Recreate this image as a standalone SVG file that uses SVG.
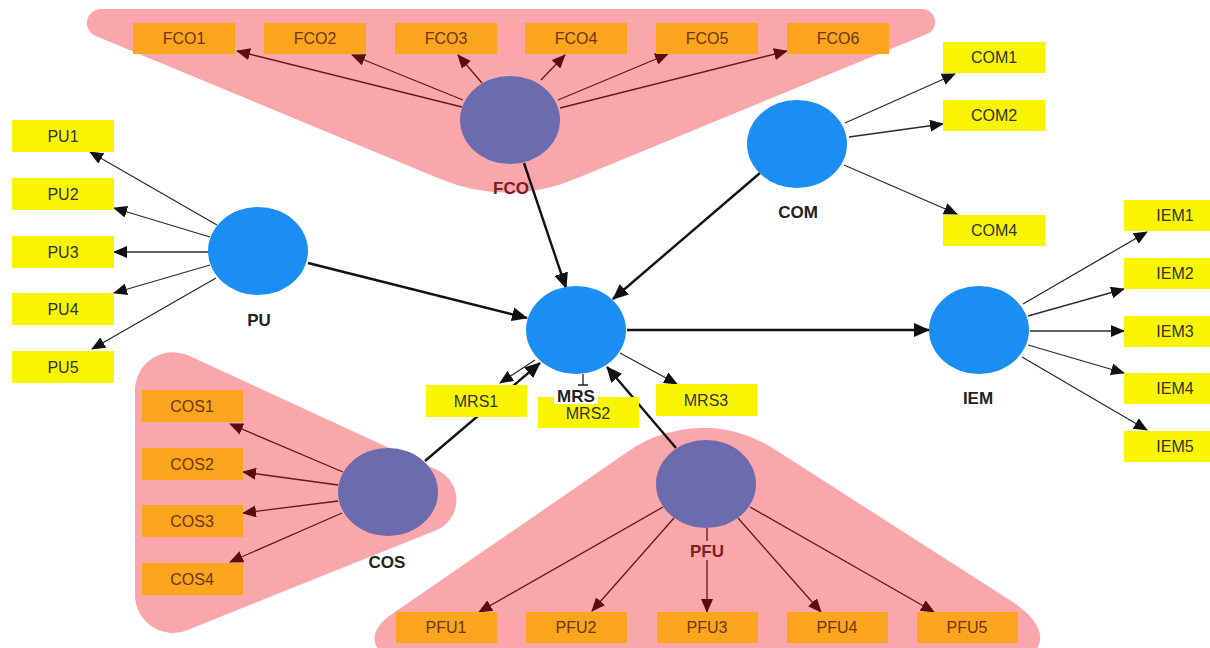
<svg xmlns="http://www.w3.org/2000/svg" width="1210" height="648" viewBox="0 0 1210 648">
<style>
.bg{fill:#ffffff}
.zone{fill:#F9A7AB}
.lat{fill:#1A8EF2}
.lat2{fill:#6B6BAE}
.ind{fill:#F9F500}
.ind2{fill:#FBA51C}
.t{font-family:"Liberation Sans",Arial,sans-serif;font-size:16px;text-anchor:middle;fill:#333333}
.t2{font-family:"Liberation Sans",Arial,sans-serif;font-size:16px;text-anchor:middle;fill:#6E3516}
.lb{font-family:"Liberation Sans",Arial,sans-serif;font-size:17px;font-weight:bold;text-anchor:middle;fill:#222222}
.lr{font-family:"Liberation Sans",Arial,sans-serif;font-size:17px;font-weight:bold;text-anchor:middle;fill:#7A1E1E}
.thin{stroke:#2b2b2b;stroke-width:1.3;fill:none;marker-end:url(#ah)}
.red{stroke:#6A1515;stroke-width:1.3;fill:none;marker-end:url(#ar)}
.thick{stroke:#111111;stroke-width:2.4;fill:none;marker-end:url(#ab)}
</style>
<defs>
<marker id="ah" markerUnits="userSpaceOnUse" markerWidth="14" markerHeight="12" refX="13" refY="6" orient="auto"><path d="M0,0 L14,6 L0,12 z" fill="#111"/></marker>
<marker id="ar" markerUnits="userSpaceOnUse" markerWidth="14" markerHeight="12" refX="13" refY="6" orient="auto"><path d="M0,0 L14,6 L0,12 z" fill="#5A0E0E"/></marker>
<marker id="ab" markerUnits="userSpaceOnUse" markerWidth="16" markerHeight="14" refX="15" refY="7" orient="auto"><path d="M0,0 L16,7 L0,14 z" fill="#111"/></marker>
</defs>
<rect class="bg" x="0" y="0" width="1210" height="648"/>
<g id="clusters">
<path class="zone" d="M100,9 L921,9 A13,13 0 0 1 927,34 L576.3,178.6 A174,174 0 0 1 440.3,179.1 L94.6,35.5 A14,14 0 0 1 100,9 Z"/>
<path class="zone" d="M135,390.4 A38,38 0 0 1 189,355.8 L437.2,469.9 A33,33 0 0 1 435.7,530.5 L187.1,630.2 A38,38 0 0 1 135,594.9 Z"/>
<path class="zone" d="M629.2,450.8 A130,130 0 0 1 772.6,448.1 L1005,597 C1040,618 1050,640 1030,656 L390,656 C370,650 368,630 392,614 Z"/>
</g>
<g id="connectors">
<line class="red" x1="462" y1="107" x2="237" y2="51"/>
<line class="red" x1="463" y1="100" x2="352" y2="55"/>
<line class="red" x1="482" y1="83" x2="458" y2="55"/>
<line class="red" x1="541" y1="80" x2="565" y2="55"/>
<line class="red" x1="558" y1="100" x2="668" y2="54"/>
<line class="red" x1="560" y1="108" x2="787" y2="51"/>
<line class="thin" x1="217" y1="225" x2="90" y2="152"/>
<line class="thin" x1="210" y1="237" x2="114" y2="208"/>
<line class="thin" x1="208" y1="252" x2="114" y2="252"/>
<line class="thin" x1="210" y1="265" x2="114" y2="293"/>
<line class="thin" x1="216" y1="278" x2="92" y2="349"/>
<line class="thin" x1="845" y1="123" x2="955" y2="74"/>
<line class="thin" x1="849" y1="137" x2="943" y2="124"/>
<line class="thin" x1="844" y1="165" x2="957" y2="214"/>
<line class="thin" x1="1023" y1="304" x2="1147" y2="232"/>
<line class="thin" x1="1028" y1="316" x2="1124" y2="289"/>
<line class="thin" x1="1030" y1="331" x2="1124" y2="331"/>
<line class="thin" x1="1028" y1="345" x2="1124" y2="373"/>
<line class="thin" x1="1022" y1="357" x2="1147" y2="430"/>
<line class="thin" x1="535" y1="360" x2="500" y2="383"/>
<line class="thin" x1="620" y1="353" x2="677" y2="384"/>
<path d="M583,374 L583,385 M578,385 L588,385" stroke="#222" stroke-width="1.3" fill="none"/>
<line class="red" x1="343" y1="472" x2="230" y2="424"/>
<line class="red" x1="338" y1="485" x2="243" y2="472"/>
<line class="red" x1="338" y1="501" x2="243" y2="513"/>
<line class="red" x1="342" y1="513" x2="230" y2="562"/>
<line class="red" x1="663" y1="507" x2="479" y2="612"/>
<line class="red" x1="674" y1="518" x2="592" y2="611"/>
<line class="red" x1="707" y1="528" x2="707" y2="612"/>
<line class="red" x1="738" y1="518" x2="821" y2="612"/>
<line class="red" x1="750" y1="507" x2="934" y2="612"/>
<line class="thick" x1="524" y1="163" x2="566" y2="288"/>
<line class="thick" x1="308" y1="263" x2="527" y2="318"/>
<line class="thick" x1="760" y1="173" x2="613" y2="299"/>
<line class="thick" x1="627" y1="330" x2="929" y2="330"/>
<line class="thick" x1="425" y1="461" x2="540" y2="363"/>
<line class="thick" x1="676" y1="448" x2="607" y2="367"/>
</g>
<g id="FCO1"><rect class="ind2" x="133" y="23" width="102" height="31"/><text class="t2" x="184" y="44">FCO1</text></g>
<g id="FCO2"><rect class="ind2" x="264" y="23" width="102" height="31"/><text class="t2" x="315" y="44">FCO2</text></g>
<g id="FCO3"><rect class="ind2" x="395" y="23" width="102" height="31"/><text class="t2" x="446" y="44">FCO3</text></g>
<g id="FCO4"><rect class="ind2" x="525" y="23" width="102" height="31"/><text class="t2" x="576" y="44">FCO4</text></g>
<g id="FCO5"><rect class="ind2" x="656" y="23" width="102" height="31"/><text class="t2" x="707" y="44">FCO5</text></g>
<g id="FCO6"><rect class="ind2" x="787" y="23" width="102" height="31"/><text class="t2" x="838" y="44">FCO6</text></g>
<g id="PU1"><rect class="ind" x="12" y="120" width="102" height="32"/><text class="t" x="63" y="142">PU1</text></g>
<g id="PU2"><rect class="ind" x="12" y="178" width="102" height="32"/><text class="t" x="63" y="200">PU2</text></g>
<g id="PU3"><rect class="ind" x="12" y="236" width="102" height="32"/><text class="t" x="63" y="258">PU3</text></g>
<g id="PU4"><rect class="ind" x="12" y="293" width="102" height="32"/><text class="t" x="63" y="315">PU4</text></g>
<g id="PU5"><rect class="ind" x="12" y="351" width="102" height="32"/><text class="t" x="63" y="373">PU5</text></g>
<g id="COM1"><rect class="ind" x="943" y="42" width="102" height="31"/><text class="t" x="994" y="63">COM1</text></g>
<g id="COM2"><rect class="ind" x="943" y="100" width="102" height="31"/><text class="t" x="994" y="121">COM2</text></g>
<g id="COM4"><rect class="ind" x="943" y="215" width="102" height="31"/><text class="t" x="994" y="236">COM4</text></g>
<g id="IEM1"><rect class="ind" x="1124" y="200" width="102" height="31"/><text class="t" x="1175" y="221">IEM1</text></g>
<g id="IEM2"><rect class="ind" x="1124" y="258" width="102" height="31"/><text class="t" x="1175" y="279">IEM2</text></g>
<g id="IEM3"><rect class="ind" x="1124" y="316" width="102" height="31"/><text class="t" x="1175" y="337">IEM3</text></g>
<g id="IEM4"><rect class="ind" x="1124" y="373" width="102" height="31"/><text class="t" x="1175" y="394">IEM4</text></g>
<g id="IEM5"><rect class="ind" x="1124" y="431" width="102" height="31"/><text class="t" x="1175" y="452">IEM5</text></g>
<g id="MRS1"><rect class="ind" x="426" y="385" width="101" height="32"/><text class="t" x="476" y="407">MRS1</text></g>
<g id="MRS2"><rect class="ind" x="538" y="397" width="101" height="31"/><text class="t" x="588" y="419">MRS2</text></g>
<g id="MRS3"><rect class="ind" x="656" y="384" width="101" height="32"/><text class="t" x="706" y="406">MRS3</text></g>
<g id="COS1"><rect class="ind2" x="142" y="390" width="101" height="32"/><text class="t2" x="192" y="412">COS1</text></g>
<g id="COS2"><rect class="ind2" x="142" y="448" width="101" height="32"/><text class="t2" x="192" y="470">COS2</text></g>
<g id="COS3"><rect class="ind2" x="142" y="505" width="101" height="32"/><text class="t2" x="192" y="527">COS3</text></g>
<g id="COS4"><rect class="ind2" x="142" y="563" width="101" height="32"/><text class="t2" x="192" y="585">COS4</text></g>
<g id="PFU1"><rect class="ind2" x="396" y="612" width="101" height="31"/><text class="t2" x="446" y="633">PFU1</text></g>
<g id="PFU2"><rect class="ind2" x="526" y="612" width="101" height="31"/><text class="t2" x="576" y="633">PFU2</text></g>
<g id="PFU3"><rect class="ind2" x="657" y="612" width="101" height="31"/><text class="t2" x="707" y="633">PFU3</text></g>
<g id="PFU4"><rect class="ind2" x="787" y="612" width="101" height="31"/><text class="t2" x="837" y="633">PFU4</text></g>
<g id="PFU5"><rect class="ind2" x="917" y="612" width="101" height="31"/><text class="t2" x="967" y="633">PFU5</text></g>
<g id="FCO"><ellipse class="lat2" cx="510" cy="120" rx="50" ry="44"/><text class="lr" x="511" y="194">FCO</text></g>
<g id="PU"><ellipse class="lat" cx="258" cy="251" rx="50" ry="44"/><text class="lb" x="259" y="326">PU</text></g>
<g id="COM"><ellipse class="lat" cx="797" cy="144" rx="50" ry="44"/><text class="lb" x="798" y="218">COM</text></g>
<g id="MRS"><ellipse class="lat" cx="576" cy="330" rx="50" ry="44"/><rect x="554" y="388" width="44" height="16" fill="#fff"/><text class="lb" x="576" y="402">MRS</text></g>
<g id="IEM"><ellipse class="lat" cx="979" cy="330" rx="50" ry="44"/><text class="lb" x="978" y="404">IEM</text></g>
<g id="COS"><ellipse class="lat2" cx="388" cy="492" rx="50" ry="44"/><text class="lb" x="387" y="568">COS</text></g>
<g id="PFU"><ellipse class="lat2" cx="706" cy="484" rx="50" ry="44"/><rect x="688" y="541" width="38" height="19" fill="#F9A7AB"/><text class="lr" x="707" y="557">PFU</text></g>
</svg>
